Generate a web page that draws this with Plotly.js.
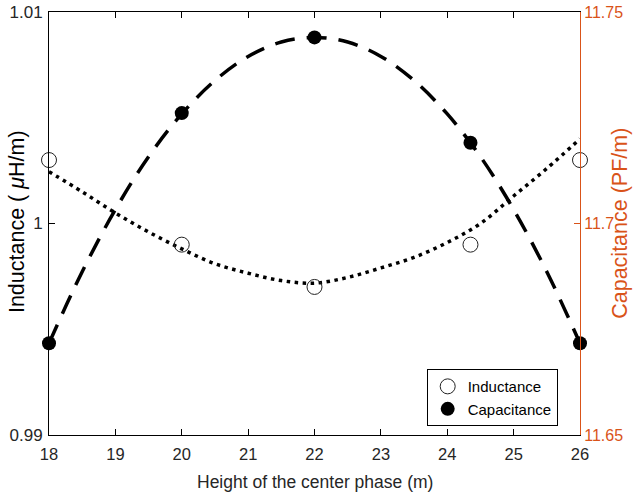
<!DOCTYPE html>
<html>
<head>
<meta charset="utf-8">
<script src="https://cdn.plot.ly/plotly-3.0.1.min.js"></script>
<style>body{margin:0;padding:0;background:#fff}</style>
</head>
<body>
<div id="chart" style="width:641px;height:500px"></div>
<script>
// measured points
const heightX = [18, 20, 22, 24.35, 26];
const inductance = [1.003, 0.999, 0.997, 0.999, 1.003];
const capacitance = [11.6717, 11.7261, 11.744, 11.7191, 11.6717];

// fitted curves
const fitX = [18, 18.5, 19, 19.5, 20, 20.5, 21, 21.5, 22, 22.5, 23, 23.5, 24, 24.5, 25, 25.5, 26];
const inductanceFit = [1.00245, 1.0015, 1.0005, 0.9996, 0.9988, 0.9981, 0.99765, 0.9973, 0.99718, 0.99745, 0.9979, 0.9984, 0.9991, 1.0000, 1.0013, 1.0026, 1.0040];
const capacitanceFit = [11.6717, 11.6886, 11.7033, 11.7158, 11.7259, 11.7338, 11.7395, 11.7429, 11.744, 11.7429, 11.7395, 11.7338, 11.7259, 11.7158, 11.7033, 11.6886, 11.6717];

const FONT = '"Liberation Sans", Arial, Helvetica, sans-serif';
const ORANGE = '#D95319';

const traces = [
  {x: fitX, y: inductanceFit, mode: 'lines', showlegend: false, hoverinfo: 'skip',
   line: {color: '#000', width: 3.5, dash: '3.5px,4.5px', shape: 'spline'}},
  {x: fitX, y: capacitanceFit, yaxis: 'y2', mode: 'lines', showlegend: false, hoverinfo: 'skip',
   line: {color: '#000', width: 3.5, dash: '20px,12px', shape: 'spline'}},
  {x: heightX, y: inductance, mode: 'markers', name: 'Inductance', cliponaxis: false,
   marker: {symbol: 'circle-open', size: 15, color: '#222', line: {width: 1, color: '#222'}}},
  {x: heightX, y: capacitance, yaxis: 'y2', mode: 'markers', name: 'Capacitance', cliponaxis: false,
   marker: {symbol: 'circle', size: 14, color: '#000'}}
];

const layout = {
  width: 641, height: 500,
  margin: {l: 48.5, r: 60.5, t: 12, b: 64.5},
  paper_bgcolor: '#fff', plot_bgcolor: '#fff',
  font: {family: FONT, size: 16, color: '#262626'},
  showlegend: true,
  legend: {x: 0.958, xanchor: 'right', y: 0.021, yanchor: 'bottom',
    bordercolor: '#000', borderwidth: 1, bgcolor: '#fff',
    font: {family: FONT, size: 15, color: '#000'}, tracegroupgap: 0},
  xaxis: {range: [18, 26], dtick: 1, showgrid: false, zeroline: false,
    showline: true, linecolor: '#000', linewidth: 1, mirror: 'ticks',
    ticks: 'inside', ticklen: 6, tickcolor: '#000', ticklabelstandoff: 4,
    tickfont: {family: FONT, size: 16.5, color: '#262626'}},
  yaxis: {range: [0.99, 1.01], dtick: 0.01, showgrid: false, zeroline: false,
    showline: true, linecolor: '#000', linewidth: 1,
    ticks: 'inside', ticklen: 6, tickcolor: '#000', ticklabelstandoff: 2,
    tickfont: {family: FONT, size: 17, color: '#262626'}},
  yaxis2: {range: [11.65, 11.75], dtick: 0.05, overlaying: 'y', side: 'right',
    showgrid: false, zeroline: false, showline: true, linecolor: ORANGE, linewidth: 1,
    ticks: 'inside', ticklen: 6, tickcolor: ORANGE,
    tickfont: {family: FONT, size: 16, color: ORANGE}},
  annotations: [
    {text: 'Height of the center phase (m)', xref: 'paper', yref: 'paper', x: 0.5, y: -0.11,
     xanchor: 'center', yanchor: 'middle', showarrow: false,
     font: {family: FONT, size: 17.5, color: '#262626'}},
    {text: 'Inductance ( <i>μ</i>H/m)', xref: 'paper', yref: 'paper', x: -0.059, y: 0.505,
     xanchor: 'center', yanchor: 'middle', textangle: -90, showarrow: false,
     font: {family: FONT, size: 21.5, color: '#000'}},
    {text: 'Capacitance (PF/m)', xref: 'paper', yref: 'paper', x: 1.074, y: 0.5,
     xanchor: 'center', yanchor: 'middle', textangle: -90, showarrow: false,
     font: {family: FONT, size: 21.5, color: ORANGE}}
  ]
};

Plotly.newPlot('chart', traces, layout, {displayModeBar: false, staticPlot: true});
</script>
</body>
</html>
